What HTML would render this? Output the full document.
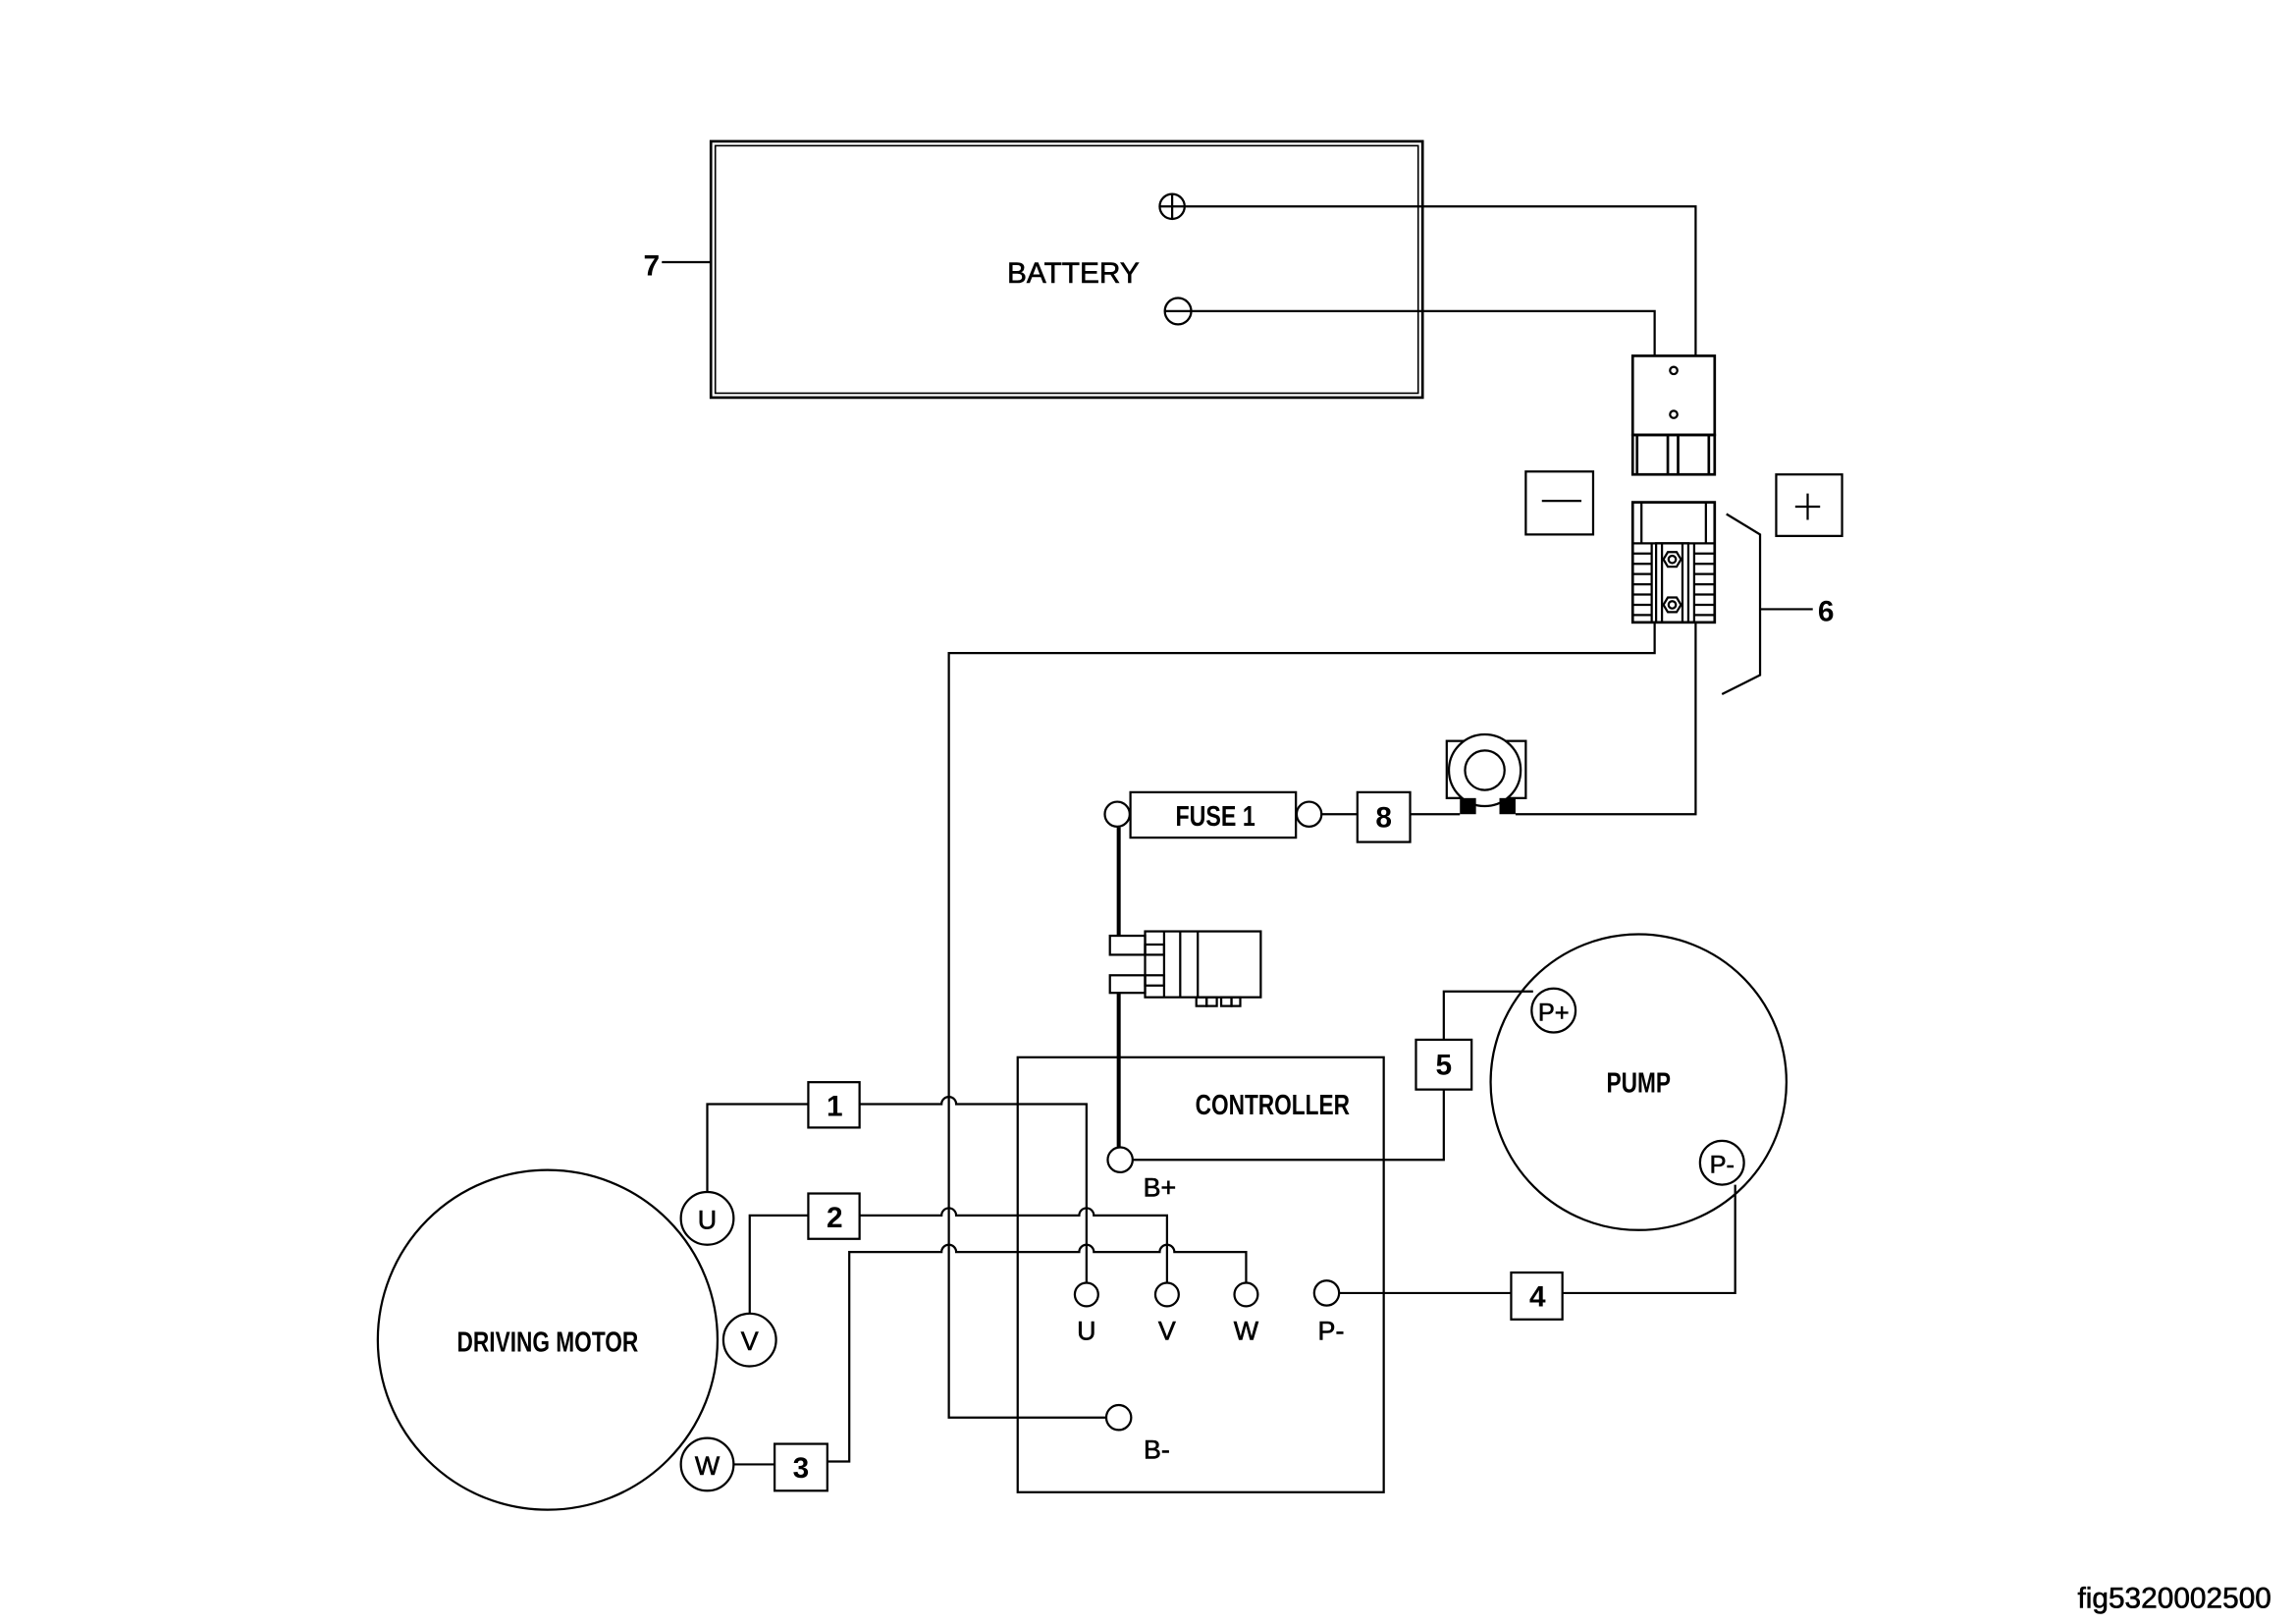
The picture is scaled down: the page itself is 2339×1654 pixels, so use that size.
<!DOCTYPE html>
<html><head><meta charset="utf-8"><style>
html,body{margin:0;padding:0;background:#fff;}
svg{display:block;}
text{font-family:"Liberation Sans",Arial,sans-serif;fill:#000;}
</style></head><body>
<svg width="2339" height="1654" viewBox="0 0 1568 1109" preserveAspectRatio="none" xmlns="http://www.w3.org/2000/svg">
<g fill="none" stroke="#000" stroke-width="1.5">
<rect x="485.5" y="96.5" width="486" height="175" stroke-width="1.8"/>
<rect x="488.5" y="99.5" width="480" height="169" stroke-width="1.1"/>
<line x1="452" y1="179" x2="485" y2="179"/>
<circle cx="800.5" cy="141" r="8.5"/>
<line x1="800.5" y1="133" x2="800.5" y2="149"/><line x1="792.5" y1="141" x2="808.5" y2="141"/>
<polyline points="809,141 1158,141 1158,243"/>
<circle cx="804.5" cy="212.5" r="9"/>
<line x1="795.5" y1="212.5" x2="813.5" y2="212.5"/>
<polyline points="813.5,212.5 1130,212.5 1130,243"/>
<rect x="1115" y="243" width="56" height="54" stroke-width="1.8"/>
<circle cx="1143" cy="253" r="2.5"/><circle cx="1143" cy="283" r="2.5"/>
<rect x="1115" y="297" width="56" height="27" stroke-width="1.8"/>
<line x1="1118" y1="297" x2="1118" y2="324" stroke-width="1.8"/>
<line x1="1139" y1="297" x2="1139" y2="324" stroke-width="1.8"/>
<line x1="1146" y1="297" x2="1146" y2="324" stroke-width="1.8"/>
<line x1="1167" y1="297" x2="1167" y2="324" stroke-width="1.8"/>
<rect x="1042" y="322" width="46" height="43"/>
<line x1="1053" y1="342" x2="1080" y2="342"/>
<rect x="1213" y="324" width="45" height="42"/>
<line x1="1226" y1="346" x2="1243" y2="346"/><line x1="1234.5" y1="337" x2="1234.5" y2="355"/>
<rect x="1115" y="343" width="56" height="82" stroke-width="1.8"/>
<line x1="1115" y1="371" x2="1171" y2="371"/>
<line x1="1121" y1="343" x2="1121" y2="371"/><line x1="1165" y1="343" x2="1165" y2="371"/>
<rect x="1131" y="371" width="22" height="54"/>
<line x1="1135" y1="371" x2="1135" y2="425"/><line x1="1149" y1="371" x2="1149" y2="425"/>
<g stroke-width="1.5">
<line x1="1115" y1="378" x2="1128" y2="378"/><line x1="1115" y1="385" x2="1128" y2="385"/>
<line x1="1115" y1="392" x2="1128" y2="392"/><line x1="1115" y1="399" x2="1128" y2="399"/>
<line x1="1115" y1="406" x2="1128" y2="406"/><line x1="1115" y1="413" x2="1128" y2="413"/>
<line x1="1115" y1="420" x2="1128" y2="420"/>
<line x1="1157" y1="378" x2="1171" y2="378"/><line x1="1157" y1="385" x2="1171" y2="385"/>
<line x1="1157" y1="392" x2="1171" y2="392"/><line x1="1157" y1="399" x2="1171" y2="399"/>
<line x1="1157" y1="406" x2="1171" y2="406"/><line x1="1157" y1="413" x2="1171" y2="413"/>
<line x1="1157" y1="420" x2="1171" y2="420"/>
<line x1="1128" y1="371" x2="1128" y2="425"/><line x1="1157" y1="371" x2="1157" y2="425"/>
</g>
<polygon points="1136,382 1139,377 1145,377 1148,382 1145,387 1139,387"/>
<circle cx="1142" cy="382" r="2.5"/>
<polygon points="1136,413 1139,408 1145,408 1148,413 1145,418 1139,418"/>
<circle cx="1142" cy="413" r="2.5"/>
<polyline points="1179,351 1202,365 1202,461 1176,474"/>
<line x1="1202" y1="416" x2="1238" y2="416"/>
<polyline points="1130,425 1130,446 648,446 648,968 755,968"/>
<polyline points="1158,425 1158,556 1035,556"/>
<rect x="988" y="506" width="54" height="39"/>
<circle cx="1014" cy="526" r="24.5" fill="#fff"/>
<circle cx="1014" cy="526" r="13.5"/>
<rect x="997" y="545" width="11" height="11" fill="#000" stroke="none"/>
<rect x="1024" y="545" width="11" height="11" fill="#000" stroke="none"/>
<line x1="963" y1="556" x2="997" y2="556"/>
<rect x="927" y="541" width="36" height="34"/>
<line x1="903" y1="556" x2="927" y2="556"/>
<circle cx="894" cy="556" r="8.5"/>
<rect x="772" y="541" width="113" height="31"/>
<circle cx="763" cy="556" r="8.5"/>
<line x1="764" y1="565" x2="764" y2="639" stroke-width="2.7"/>
<line x1="764" y1="678" x2="764" y2="784" stroke-width="2.7"/>
<rect x="758" y="639" width="24" height="13"/>
<rect x="758" y="666" width="24" height="12"/>
<rect x="782" y="636" width="79" height="45"/>
<line x1="795" y1="636" x2="795" y2="681"/><line x1="806" y1="636" x2="806" y2="681"/><line x1="818" y1="636" x2="818" y2="681"/>
<rect x="782" y="645" width="13" height="7"/><rect x="782" y="666" width="13" height="7"/>
<rect x="817" y="681" width="7" height="6"/><rect x="824" y="681" width="7" height="6"/>
<rect x="834" y="681" width="7" height="6"/><rect x="841" y="681" width="6" height="6"/>
<rect x="695" y="722" width="250" height="297"/>
<circle cx="765" cy="792" r="8.5"/>
<polyline points="773.5,792 986,792 986,744"/>
<rect x="967" y="710" width="38" height="34"/>
<polyline points="986,710 986,677 1047,677"/>
<circle cx="1119" cy="739" r="101"/>
<circle cx="1061" cy="690" r="15" fill="#fff"/>
<circle cx="1176" cy="794" r="15" fill="#fff"/>
<polyline points="1185,809 1185,883 1067,883"/>
<rect x="1032" y="869" width="35" height="32"/>
<line x1="914.5" y1="883" x2="1032" y2="883"/>
<circle cx="906" cy="883" r="8.5"/>
<circle cx="742" cy="884" r="8"/><circle cx="797" cy="884" r="8"/><circle cx="851" cy="884" r="8"/>
<circle cx="764" cy="968" r="8.5"/>
<circle cx="374" cy="915" r="116"/>
<circle cx="483" cy="832" r="18" fill="#fff"/>
<circle cx="512" cy="915" r="18" fill="#fff"/>
<circle cx="483" cy="1000" r="18" fill="#fff"/>
<polyline points="483,814 483,754 552,754"/>
<rect x="552" y="739" width="35" height="31"/>
<path d="M587,754 H643 A5,5 0 0 1 653,754 H742 V876"/>
<polyline points="512,897 512,830 552,830"/>
<rect x="552" y="815" width="35" height="31"/>
<path d="M587,830 H643 A5,5 0 0 1 653,830 H737 A5,5 0 0 1 747,830 H797 V876"/>
<line x1="501" y1="1000" x2="529" y2="1000"/>
<rect x="529" y="986" width="36" height="32"/>
<path d="M565,998 H580 V855 H643 A5,5 0 0 1 653,855 H737 A5,5 0 0 1 747,855 H792 A5,5 0 0 1 802,855 H851 V876"/>
</g>
<g font-size="20" font-weight="bold">
<text x="733" y="193" text-anchor="middle" font-size="20" font-weight="normal" stroke="#000" stroke-width="0.4">BATTERY</text>
<text x="445" y="188" text-anchor="middle">7</text>
<text x="1247" y="424" text-anchor="middle">6</text>
<text x="945" y="565" text-anchor="middle">8</text>
<text x="830" y="564" text-anchor="middle" font-size="19" transform="translate(830 0) scale(0.82 1) translate(-830 0)">FUSE 1</text>
<text x="869" y="761" text-anchor="middle" font-size="19" transform="translate(869 0) scale(0.8 1) translate(-869 0)">CONTROLLER</text>
<text x="1119" y="746" text-anchor="middle" font-size="19" transform="translate(1119 0) scale(0.8 1) translate(-1119 0)">PUMP</text>
<text x="374" y="923" text-anchor="middle" font-size="19" transform="translate(374 0) scale(0.8 1) translate(-374 0)">DRIVING MOTOR</text>
<text x="986" y="734" text-anchor="middle">5</text>
<text x="1050" y="892" text-anchor="middle">4</text>
<text x="570" y="762" text-anchor="middle">1</text>
<text x="570" y="838" text-anchor="middle">2</text>
<text x="547" y="1009" text-anchor="middle">3</text>
<g font-weight="normal" stroke="#000" stroke-width="0.4">
<text x="1061" y="697" text-anchor="middle" font-size="17">P+</text>
<text x="1176" y="801" text-anchor="middle" font-size="17">P-</text>
<text x="483" y="839" text-anchor="middle" font-size="18">U</text>
<text x="512" y="922" text-anchor="middle" font-size="18">V</text>
<text x="483" y="1007" text-anchor="middle" font-size="18">W</text>
<text x="742" y="915" text-anchor="middle" font-size="18">U</text>
<text x="797" y="915" text-anchor="middle" font-size="18">V</text>
<text x="851" y="915" text-anchor="middle" font-size="18">W</text>
<text x="909" y="915" text-anchor="middle" font-size="18">P-</text>
<text x="792" y="817" text-anchor="middle" font-size="18">B+</text>
<text x="790" y="996" text-anchor="middle" font-size="18">B-</text>
<text x="1485" y="1098" text-anchor="middle" font-size="20">fig5320002500</text>
</g>
</g>
</svg>
</body></html>
